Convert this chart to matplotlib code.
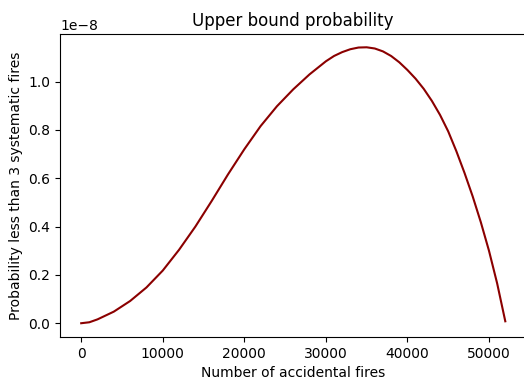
import matplotlib
matplotlib.use("Agg")
import matplotlib.pyplot as plt
import numpy as np

# values
accidental = [0, 1000, 2000, 4000, 6000, 8000, 10000, 12000, 14000, 16000,
              18000, 20000, 22000, 24000, 26000, 28000, 30000, 31000, 32000,
              33000, 34000, 35000, 36000, 37000, 38000, 39000, 40000, 41000,
              42000, 43000, 44000, 45000, 46000, 47000, 48000, 49000, 50000,
              51000, 52000]
prob = [0.0, 0.004, 0.016, 0.048, 0.092, 0.148, 0.218, 0.304, 0.400, 0.506,
        0.616, 0.720, 0.816, 0.898, 0.968, 1.030, 1.084, 1.106, 1.122,
        1.134, 1.141, 1.142, 1.137, 1.125, 1.106, 1.080, 1.048, 1.012,
        0.970, 0.920, 0.862, 0.794, 0.712, 0.622, 0.525, 0.418, 0.300,
        0.165, 0.008]
prob = np.array(prob) * 1e-8

fig = plt.figure(figsize=(5.24, 3.81), dpi=100)
ax = fig.add_axes([60 / 524, 44 / 381, 466.5 / 524, 303 / 381])

ax.plot(accidental, prob, color="darkred", linewidth=1.5)
ax.set_title("Upper bound probability")
ax.set_xlabel("Number of accidental fires")
ax.set_ylabel("Probability less than 3 systematic fires")
ax.set_xlim(-2600, 54600)
ax.set_ylim(-0.057e-8, 1.197e-8)

fig.savefig("out.png", dpi=100)
